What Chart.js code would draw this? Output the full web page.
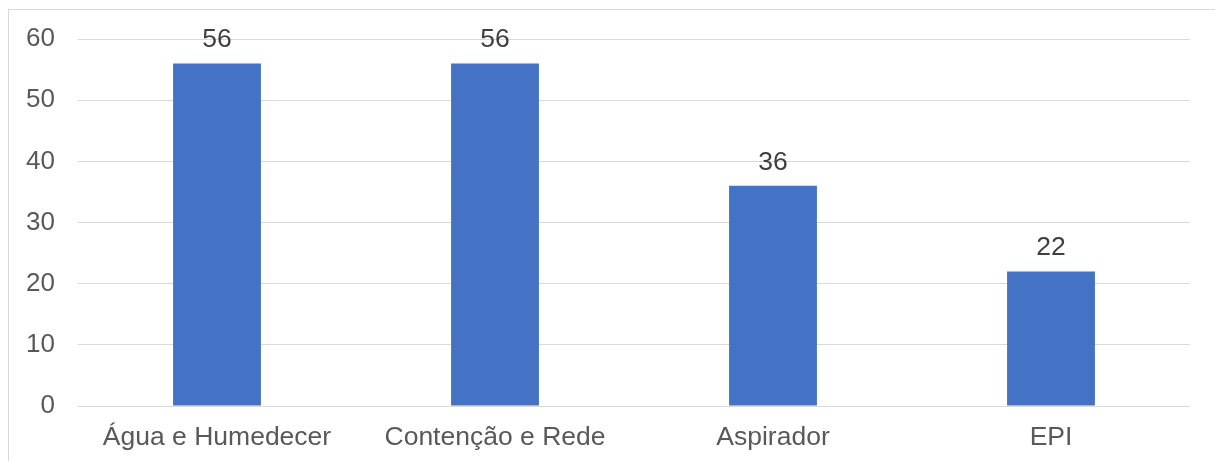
<!DOCTYPE html>
<html>
<head>
<meta charset="utf-8">
<script src="https://cdn.jsdelivr.net/npm/chart.js@4"></script>
<style>
  html, body { margin: 0; padding: 0; background: #fff; }
  #wrap { width: 1215px; height: 461px; position: relative; }
</style>
</head>
<body>
<div id="wrap"><canvas id="chart"></canvas></div>
<script>
var categories = ['Água e Humedecer', 'Contenção e Rede', 'Aspirador', 'EPI'];
var values = [56, 56, 36, 22];
var yTicks = [0, 10, 20, 30, 40, 50, 60];

// frame around the chart (left/top edges visible)
var framePlugin = {
  id: 'frame',
  beforeDraw: function(chart) {
    var ctx = chart.ctx;
    ctx.save();
    ctx.strokeStyle = '#d9d9d9';
    ctx.lineWidth = 1;
    ctx.strokeRect(8.5, 9.5, 1300, 500);
    ctx.restore();
  }
};

// value labels above the bars
var valueLabels = {
  id: 'valueLabels',
  afterDatasetsDraw: function(chart) {
    var ctx = chart.ctx;
    ctx.save();
    ctx.font = '26.5px "Liberation Sans", Arial, sans-serif';
    ctx.fillStyle = '#404040';
    ctx.textAlign = 'center';
    ctx.textBaseline = 'alphabetic';
    chart.getDatasetMeta(0).data.forEach(function(bar, i) {
      ctx.fillText(values[i], bar.x, bar.y - 16);
    });
    ctx.restore();
  }
};

new Chart(document.getElementById('chart'), {
  type: 'bar',
  data: {
    labels: categories,
    datasets: [{
      data: values,
      backgroundColor: '#4472C4',
      borderWidth: 0,
      categoryPercentage: 1,
      barPercentage: 0.316
    }]
  },
  options: {
    responsive: true,
    maintainAspectRatio: false,
    animation: false,
    layout: { padding: { top: 39, right: 25, left: 0, bottom: 0 } },
    plugins: {
      legend: { display: false },
      tooltip: { enabled: false }
    },
    scales: {
      x: {
        grid: { display: false, drawTicks: false },
        border: { display: false },
        ticks: {
          color: '#595959',
          font: { family: '"Liberation Sans", Arial, sans-serif', size: 26.5 },
          padding: 16,
          maxRotation: 0
        },
        afterFit: function(scale) { scale.height = 55; }
      },
      y: {
        min: 0,
        max: 60,
        afterBuildTicks: function(scale) {
          scale.ticks = yTicks.map(function(v) { return { value: v }; });
        },
        grid: { color: '#d9d9d9', lineWidth: 1, drawTicks: false },
        border: { display: false },
        ticks: {
          color: '#595959',
          font: { family: '"Liberation Sans", Arial, sans-serif', size: 26 },
          padding: 23
        },
        afterFit: function(scale) { scale.width = 78; }
      }
    }
  },
  plugins: [framePlugin, valueLabels]
});
</script>
</body>
</html>
